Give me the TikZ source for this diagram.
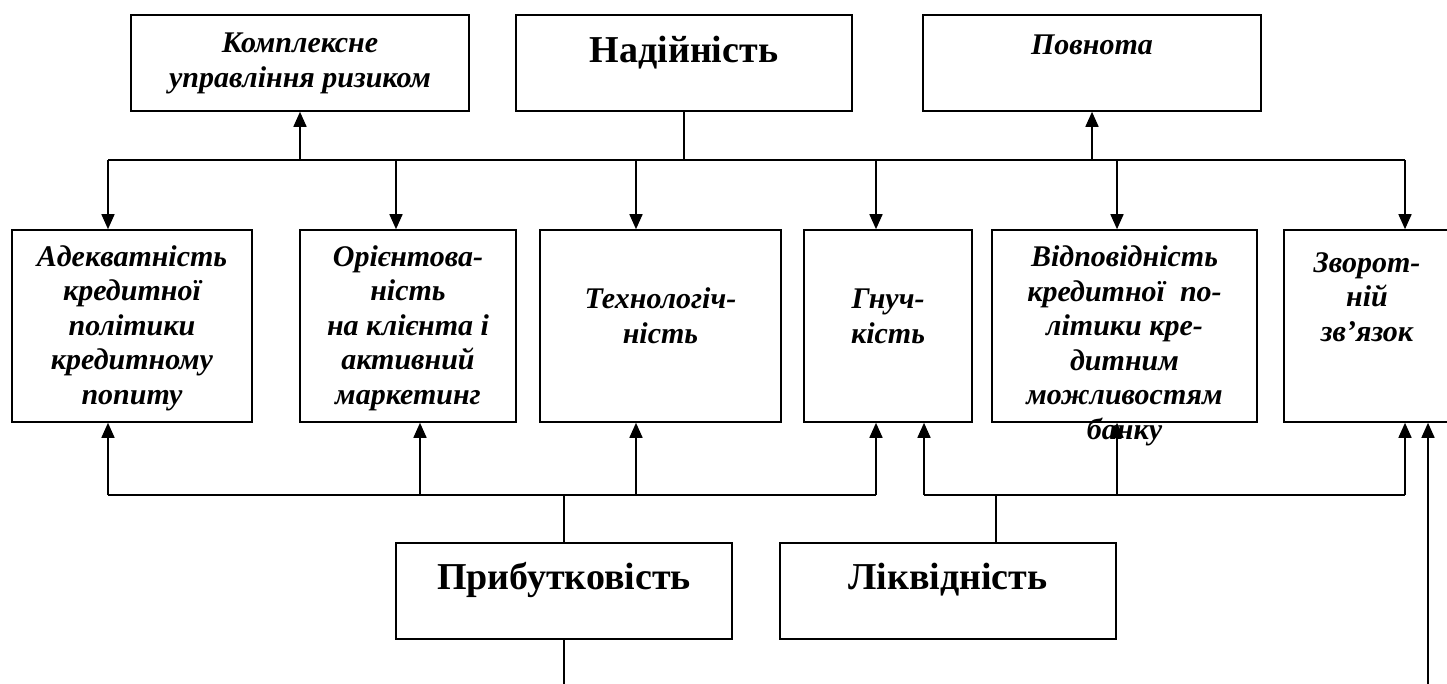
\documentclass[tikz,border=0pt]{standalone}
\usepackage{fontspec}
\setmainfont{Liberation Serif}
\usetikzlibrary{arrows.meta}
\newcommand{\itfont}{\fontsize{30}{34.5}\selectfont\bfseries\itshape}
\newcommand{\bffont}{\fontsize{38}{44}\selectfont\bfseries}

\begin{document}
\begin{tikzpicture}[x=1pt,y=-1pt,line width=1.6pt,>={Triangle[length=15pt,width=13pt]},
  box/.style={draw,inner sep=0pt},
  lbl/.style={anchor=base,align=center,inner sep=0pt,font=\itfont},
  ttl/.style={anchor=base,align=center,inner sep=0pt,font=\bffont}]
\clip (0,0) rectangle (1447,684);

% top row (labels placed by their last line)
\node[box,minimum width=338pt,minimum height=96pt] (risk) at (300,63) {};
\node[box,minimum width=336pt,minimum height=96pt] (reliab) at (684,63) {};
\node[box,minimum width=338pt,minimum height=96pt] (compl) at (1092,63) {};
\node[lbl] (risk-t) at ([yshift=-73pt]risk.north) {Комплексне\\управління ризиком};
\node[ttl] (reliab-t) at ([yshift=-48pt]reliab.north) {Надійність};
\node[lbl] (compl-t) at ([yshift=-40pt]compl.north) {Повнота};

% middle row
\node[box,minimum width=240pt,minimum height=192pt] (adeq) at (132,326) {};
\node[box,minimum width=216pt,minimum height=192pt] (orient) at (408,326) {};
\node[box,minimum width=241pt,minimum height=192pt] (tech) at (660.5,326) {};
\node[box,minimum width=168pt,minimum height=192pt] (flex) at (888,326) {};
\node[box,minimum width=265pt,minimum height=192pt] (conform) at (1124.5,326) {};
\node[box,minimum width=166pt,minimum height=192pt] (feedb) at (1367,326) {};
\node[lbl] (adeq-t) at ([yshift=-175pt]adeq.north) {Адекватність\\кредитної\\політики\\кредитному\\попиту};
\node[lbl] (orient-t) at ([yshift=-175pt]orient.north) {Орієнтова-\\ність\\на клієнта і\\активний\\маркетинг};
\node[lbl] (tech-t) at ([yshift=-114pt]tech.north) {Технологіч-\\ність};
\node[lbl] (flex-t) at ([yshift=-114pt]flex.north) {Гнуч-\\кість};
\node[lbl] (conform-t) at ([yshift=-210pt]conform.north) {Відповідність\\кредитної~ по-\\літики кре-\\дитним\\можливостям\\банку};
\node[lbl] (feedb-t) at ([yshift=-112pt]feedb.north) {Зворот-\\ній\\зв’язок};

% bottom row
\node[box,minimum width=336pt,minimum height=96pt] (profit) at (564,591) {};
\node[box,minimum width=336pt,minimum height=96pt] (liquid) at (948,591) {};
\node[ttl] (profit-t) at ([yshift=-47pt]profit.north) {Прибутковість};
\node[ttl] (liquid-t) at ([yshift=-47pt]liquid.north) {Ліквідність};

% upper bus
\coordinate (tbL) at (108,160);
\coordinate (tbR) at (1405,160);
\draw (reliab.south) -- (reliab.south |- tbL);
\draw (tbL) -- (tbR);
\draw[->] (risk.south |- tbL) -- (risk.south);
\draw[->] (compl.south |- tbL) -- (compl.south);
\foreach \n/\x in {adeq/108,orient/396,tech/636,flex/876,conform/1117,feedb/1405}
  \draw[->] (\x,160) -- (\x,160 |- \n.north);

% lower buses
\coordinate (bbL) at (108,495);
\coordinate (bbR) at (1405,495);
\draw (bbL) -- (876,495);
\draw (924,495) -- (bbR);
\draw (profit.north) -- (profit.north |- bbL);
\draw ([xshift=48pt]liquid.north) -- ([xshift=48pt]liquid.north |- bbL);
\foreach \n/\x in {adeq/108,orient/420,tech/636,flex/876,flex/924,conform/1117,feedb/1405}
  \draw[->] (\x,495) -- (\x,495 |- \n.south);

% outgoing lines
\coordinate (pout) at (564,684);
\coordinate (fin) at (1428,684);
\draw (profit.south) -- (pout);
\draw[->] (fin) -- (fin |- feedb.south);
\end{tikzpicture}
\end{document}
